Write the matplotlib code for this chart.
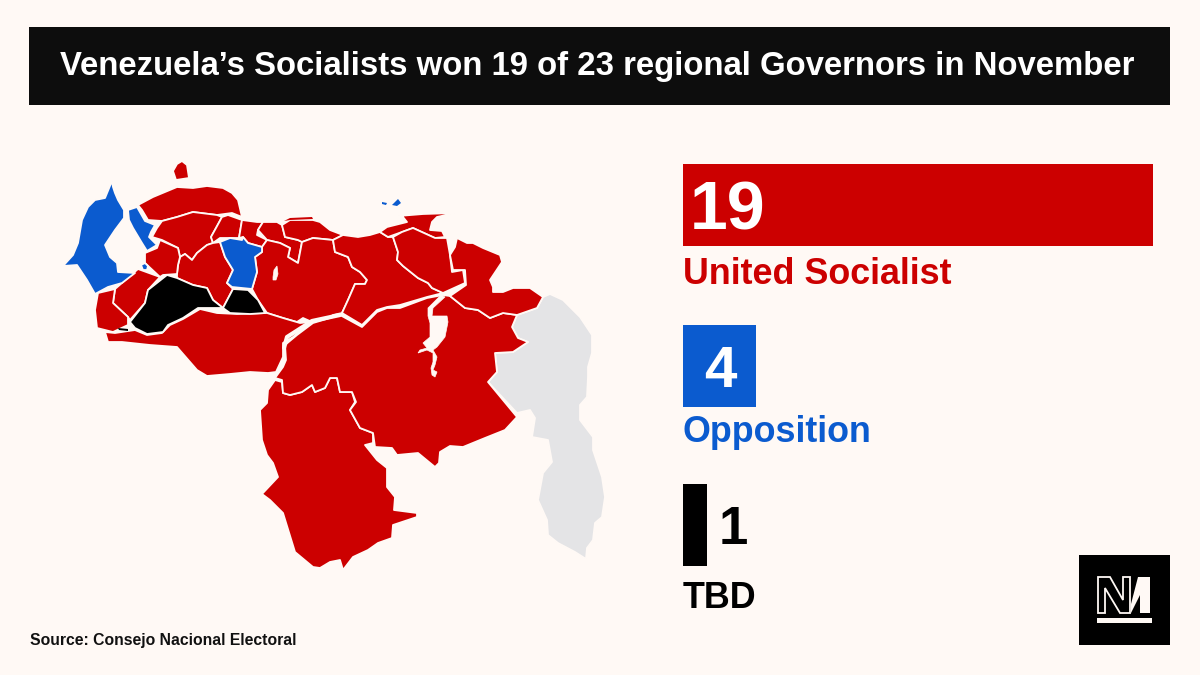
import matplotlib
matplotlib.use("Agg")
import matplotlib.pyplot as plt
from matplotlib.patches import Polygon, Rectangle

plt.rcParams['font.family'] = ['Liberation Sans', 'DejaVu Sans']

BG = '#FFF9F5'
RED = '#CC0000'
BLUE = '#0B5BCF'
BLACK = '#000000'
GREY = '#E4E4E6'

title = "Venezuela\u2019s Socialists won 19 of 23 regional Governors in November"
source = "Source: Consejo Nacional Electoral"

# tallies, and the bar lengths as drawn in the original (not to scale with the counts)
groups = ["United Socialist", "Opposition", "TBD"]
counts = [19, 4, 1]
bar_lengths = [470, 73, 24]
group_colors = [RED, BLUE, BLACK]

# state outlines, in image pixels
zulia = [(112,181),(113,187),(115,193),(118,200),(124,210),(124,218),(115,230),(105,245),(110,257),(117,263),(118,272),
         (135,273),(122,283),(108,287),(95,294),(87,280),(77,265),(63,266),(73,255),(78,243),(82,220),(88,207),
         (95,200),(105,198)]
trujillo = [(128,210),(137,207),(145,221),(155,225),(151,232),(149,237),(157,245),(147,251),(142,243),(133,228),(129,220)]
lake_dot = [(141,265),(145,263),(148,266),(147,270),(143,270)]
cojedes = [(220,242),(230,238),(242,240),(243,237),(248,243),(262,247),(262,252),(255,257),(257,272),(252,289),
           (232,287),(227,283),(233,270),(225,257)]

aruba = [(182,161),(187,165),(189,178),(176,180),(173,171),(177,164)]
falcon = [(138,205),(153,197),(177,187),(193,188),(207,186),(223,188),(232,193),(238,200),(242,217),(232,213),(217,215),
          (193,212),(177,217),(162,221),(148,220),(142,210)]
lara = [(162,221),(177,217),(193,212),(217,215),(222,217),(216,228),(211,237),(213,243),(207,245),(197,253),
        (192,260),(185,254),(180,257),(178,248),(162,240),(152,237),(157,228)]
yaracuy = [(222,217),(228,215),(242,220),(239,238),(230,238),(220,238),(213,243),(211,237),(216,228)]
carabobo = [(242,220),(257,222),(263,222),(258,230),(257,235),(267,240),(262,247),(248,243),(243,237),(239,238)]
aragua = [(258,230),(263,222),(277,222),(282,225),(285,237),(298,240),(302,242),(298,263),(288,257),(290,248),
          (280,243),(267,240)]
miranda = [(282,225),(290,220),(313,220),(320,222),(330,230),(343,235),(333,240),(313,238),(302,242),(298,240),(285,237)]
guarico = [(262,247),(267,240),(280,243),(290,248),(288,257),(298,263),(302,242),(313,238),(333,240),
           (335,252),(348,257),(352,267),(360,272),(367,280),(365,284),(355,284),(348,300),(342,313),(333,315),
           (323,322),(312,322),(303,318),(297,322),(283,318),(267,313),(258,300),(252,289),(257,272),(255,257),(262,252)]
portuguesa = [(178,265),(180,257),(185,254),(192,260),(197,253),(207,245),(213,243),(220,242),(225,257),(233,270),
              (227,283),(233,289),(223,308),(213,300),(207,288),(193,285),(177,278),(177,274)]
trujillo_south = [(160,240),(178,248),(180,257),(178,265),(177,274),(163,275),(160,277),(145,263),(145,253),(157,248)]
merida = [(138,269),(160,277),(148,290),(145,303),(130,320),(128,317),(113,303),(115,289)]
tachira = [(98,293),(115,289),(113,303),(128,317),(128,325),(113,332),(97,328),(95,310)]
apure = [(105,332),(115,333),(135,330),(147,335),(162,333),(170,325),(183,319),(200,309),(217,313),(237,314),
         (267,313),(283,318),(300,323),(310,322),(293,337),(283,343),(283,357),(276,372),(268,373),(250,372),
         (230,374),(207,376),(197,370),(177,347),(150,345),(122,342),(108,342)]
amazonas = [(275,380),(282,382),(283,393),(290,395),(302,392),(312,385),(315,392),(325,388),(330,378),(337,378),
            (340,392),(352,392),(355,402),(350,410),(360,428),(373,433),(373,443),(365,445),(377,460),(387,468),
            (387,487),(395,497),(394,510),(417,513),(417,517),(393,525),(392,538),(378,543),(368,550),(353,557),
            (343,570),(340,560),(330,562),(320,568),(313,567),(295,552),(283,513),(270,500),(262,494),(278,477),
            (273,463),(267,455),(262,440),(260,410),(267,403),(268,390)]
bolivar = [(285,345),(297,335),(313,323),(340,315),(362,327),(377,312),(387,308),(400,308),(427,298),(443,295),
           (450,296),(465,308),(478,310),(490,318),(503,313),(517,315),(512,327),(518,338),(528,342),(513,352),
           (495,353),(497,372),(488,382),(517,417),(505,430),(485,438),(463,447),(450,446),(440,452),(439,463),
           (435,467),(418,453),(397,455),(392,448),(375,447),(373,433),(360,428),(350,410),(356,402),(352,392),
           (340,392),(337,378),(330,378),(325,388),(315,392),(312,385),(302,392),(290,395),(283,393),(282,380),
           (275,378),(283,367),(286,360)]
anzoategui = [(333,240),(343,235),(358,237),(370,235),(380,232),(388,237),(393,237),(398,252),(397,260),(403,266),(418,278),
              (428,283),(432,288),(443,293),(427,297),(400,305),(387,307),(377,310),(362,325),(342,313),(348,300),(355,284),
              (365,284),(367,280),(360,272),(352,267),(348,257),(335,252)]
sucre = [(380,232),(387,227),(407,222),(403,217),(386,217),(423,214),(455,213),(437,217),(432,222),(430,230),
         (442,231),(445,237),(435,238),(413,228),(402,232),(388,237)]
monagas = [(393,237),(402,232),(413,228),(435,238),(447,238),(450,255),(452,272),(463,270),(465,283),(443,293),(432,288),
           (428,283),(418,278),(403,266),(397,260),(398,252)]
delta = [(457,238),(467,243),(473,243),(483,248),(500,255),(502,262),(492,277),(490,280),(493,287),(493,292),(503,292),(513,288),(530,288),
         (543,297),(537,308),(517,315),(503,313),(490,318),(478,310),(465,308),(450,296),(466,285),(465,270),
         (453,270),(450,255),(455,247)]

barinas = [(167,275),(177,278),(193,285),(207,288),(213,300),(223,308),(198,308),(183,318),(168,325),(163,332),
           (147,334),(135,328),(130,322),(145,303),(148,290)]
barinas_east = [(233,289),(248,290),(258,300),(265,313),(250,314),(230,313),(223,308)]
sliver = [(118,328),(128,329),(128,331),(119,330)]

esequibo = [(543,297),(550,294),(563,300),(580,317),(592,335),(592,353),(588,367),(588,377),(587,397),(580,405),
            (580,420),(593,437),(593,450),(602,477),(605,497),(602,517),(595,523),(593,540),(587,548),(586,559),
            (575,552),(558,543),(548,535),(547,520),(538,500),(543,473),(552,462),(548,440),(532,437),(535,418),
            (530,410),(517,413),(488,382),(497,372),(495,353),(513,352),(528,342),(518,338),(512,327),(517,315),(537,308)]

# small bits, too small to carry a border
margarita = [(392,205),(398,199),(401,203),(397,206)]
coche = [(382,202),(387,203),(386,205),(382,204)]
vargas = [(284,221),(290,218),(312,217),(313,219),(290,220)]

# water cut out of the red states
guri = [(441,295),(445,297),(433,308),(432,316),(447,316),(448,322),(445,337),(437,347),(433,350),(437,357),(435,365),
        (433,370),(437,372),(435,377),(432,375),(431,368),(433,362),(433,353),(427,350),(418,353),(420,350),(427,348),
        (423,343),(430,337),(430,323),(428,316),(428,308)]
valencia_lake = [(273,277),(274,270),(277,266),(278,274),(276,280),(273,280)]
orinoco = [(284,348),(287,337),(312,321),(340,315)]

blue_states = [zulia, trujillo, lake_dot, cojedes]
red_states = [aruba, falcon, lara, yaracuy, carabobo, aragua, miranda, guarico, portuguesa, trujillo_south,
              merida, tachira, apure, amazonas, bolivar, anzoategui, sucre, monagas, delta]
black_states = [barinas, barinas_east]
grey_states = [esequibo]
water = [guri, valencia_lake]

logo_n = [(1098,577),(1110,577),(1123,600),(1123,577),(1130,577),(1130,613),(1120,613),(1105,588),(1105,613),(1098,613)]
logo_m = [(1138,577),(1150,577),(1150,613),(1140,613),(1140,595),(1131,613),(1131,604)]

fig = plt.figure(figsize=(12, 6.75), dpi=100, facecolor=BG)
ax = fig.add_axes([0, 0, 1, 1])
ax.set_xlim(0, 1200)
ax.set_ylim(675, 0)
ax.axis('off')

# header
ax.add_patch(Rectangle((29, 27), 1141, 78, color='#0D0D0D', lw=0))
ax.text(597, 67, title, color='white', fontsize=23.65, fontweight='bold', ha='center', va='center')

# map
for states, col in [(grey_states, GREY), (red_states, RED), (blue_states, BLUE), (black_states, BLACK)]:
    for outline in states:
        ax.add_patch(Polygon(outline, closed=True, facecolor=col, edgecolor=BG, lw=1.3, joinstyle='round'))
ax.add_patch(Polygon(sliver, closed=True, facecolor=BLACK, edgecolor='none'))
ax.add_patch(Polygon(vargas, closed=True, facecolor=RED, edgecolor='none'))
for outline in [margarita, coche]:
    ax.add_patch(Polygon(outline, closed=True, facecolor=BLUE, edgecolor='none'))
for outline in water:
    ax.add_patch(Polygon(outline, closed=True, facecolor=BG, edgecolor=BG, lw=0.5))
ax.plot([p[0] for p in orinoco], [p[1] for p in orinoco], color=BG, lw=3, solid_capstyle='round')

# tallies
bar_tops = [164, 325, 484]
bar_height = 82
ax.barh([t + bar_height / 2 for t in bar_tops], bar_lengths, height=bar_height, left=683, color=group_colors)

ax.text(728, 212, str(counts[0]), color='white', fontsize=49, fontweight='bold', ha='center', va='center')
ax.text(720, 372, str(counts[1]), color='white', fontsize=42, fontweight='bold', ha='center', va='center')
ax.text(733, 530, str(counts[2]), color=BLACK, fontsize=38, fontweight='bold', ha='center', va='center')

for name, col, y in zip(groups, group_colors, [274, 433, 599]):
    ax.text(683, y, name, color=col, fontsize=25.8, fontweight='bold', ha='left', va='center')

ax.text(30, 640, source, color='#111111', fontsize=11.3, fontweight='bold', ha='left', va='center')

# logo
ax.add_patch(Rectangle((1079, 555), 91, 90, color=BLACK, lw=0))
ax.add_patch(Polygon(logo_n, closed=True, facecolor='none', edgecolor=BG, lw=1.3))
ax.add_patch(Polygon(logo_m, closed=True, facecolor=BG, edgecolor='none'))
ax.add_patch(Rectangle((1097, 618), 55, 5, color=BG, lw=0))

fig.savefig('out.png', dpi=100, facecolor=BG)
